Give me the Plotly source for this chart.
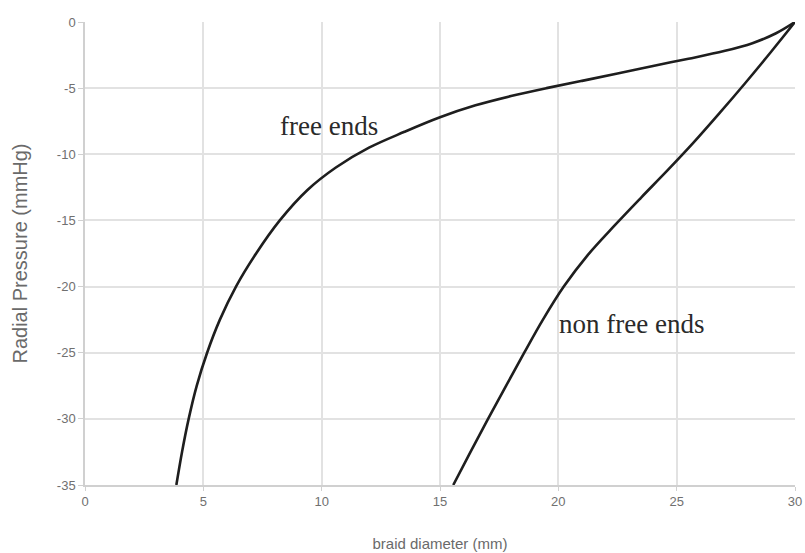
import plotly.graph_objects as go

# Data
free_x = [3.86, 4.10, 4.38, 4.72, 5.16, 5.70, 6.38, 7.23, 8.23, 9.4, 10.6, 12.0, 13.5,
          15.0, 16.5, 18.0, 19.5, 21.0, 22.5, 24.0, 25.5, 27.0, 28.2, 29.2, 30.0]
free_y = [-35.0, -32.5, -30.0, -27.5, -25.0, -22.5, -20.0, -17.5, -15.0, -12.7, -11.0,
          -9.5, -8.3, -7.2, -6.3, -5.6, -5.0, -4.45, -3.9, -3.32, -2.78, -2.2, -1.6,
          -0.85, 0.0]

nonfree_x = [15.56, 16.29, 17.03, 17.79, 18.56, 19.35, 20.23, 21.25, 22.4, 23.5, 24.6,
             25.7, 26.8, 27.9, 29.0, 30.0]
nonfree_y = [-35.0, -32.5, -30.0, -27.5, -25.0, -22.5, -20.0, -17.6, -15.34, -13.27,
             -11.24, -9.14, -6.91, -4.61, -2.23, 0.0]

x_ticks = [0, 5, 10, 15, 20, 25, 30]
y_ticks = [0, -5, -10, -15, -20, -25, -30, -35]

fig = go.Figure()
fig.add_trace(go.Scatter(x=free_x, y=free_y, mode="lines", name="free ends",
                         line=dict(color="#1e1e1e", width=2.6, shape="spline", smoothing=1.0)))
fig.add_trace(go.Scatter(x=nonfree_x, y=nonfree_y, mode="lines", name="non free ends",
                         line=dict(color="#1e1e1e", width=2.6, shape="spline", smoothing=1.0)))

fig.add_annotation(x=10.3, y=-7.86, text="free ends", showarrow=False,
                   font=dict(family="Liberation Serif", size=27, color="#2a2a2a"))
fig.add_annotation(x=23.1, y=-22.8, text="non free ends", showarrow=False,
                   font=dict(family="Liberation Serif", size=27, color="#2a2a2a"))

fig.update_layout(
    width=805, height=553,
    margin=dict(l=85, r=10, t=22, b=68),
    paper_bgcolor="white", plot_bgcolor="white",
    showlegend=False,
    font=dict(family="Liberation Sans", color="#777777"),
)
fig.update_xaxes(
    range=[0, 30], tickvals=x_ticks, ticktext=[str(v) for v in x_ticks],
    showgrid=True, gridcolor="#e2e2e2", gridwidth=1.5,
    showline=True, linecolor="#d0d0d0", linewidth=1.5,
    ticks="outside", ticklen=4, tickcolor="#d0d0d0",
    tickfont=dict(size=13, color="#707070"),
    title=dict(text="braid diameter (mm)", font=dict(size=15, color="#6a6a6a"), standoff=30),
    zeroline=False, automargin=False,
)
fig.update_yaxes(
    range=[-35, 0], tickvals=y_ticks, ticktext=[str(v) for v in y_ticks],
    showgrid=True, gridcolor="#e2e2e2", gridwidth=1.5,
    showline=True, linecolor="#d0d0d0", linewidth=1.5,
    ticks="outside", ticklen=5, tickcolor="#d0d0d0",
    tickfont=dict(size=13, color="#707070"),
    title=dict(text="Radial Pressure (mmHg)", font=dict(size=20, color="#6a6a6a"), standoff=24),
    zeroline=False, automargin=False,
)

fig.write_html("out.html")
